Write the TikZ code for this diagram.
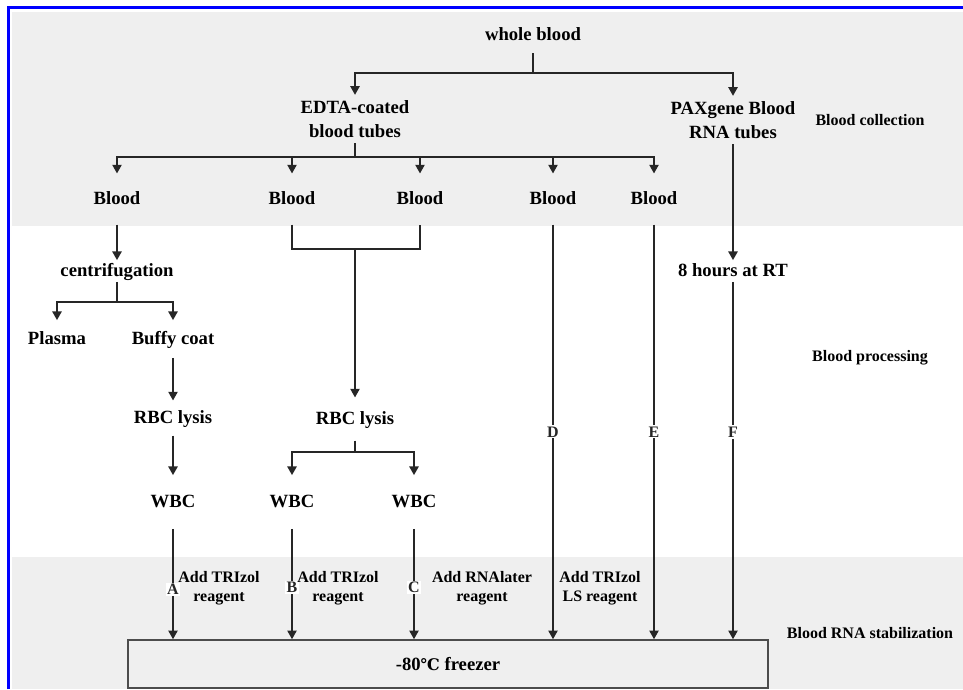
\documentclass[tikz,border=0pt]{standalone}
\usepackage{fontspec}
\setmainfont{Liberation Serif}
\newfontfamily\celsiusfont{DejaVu Serif}
\usepackage{tikz}
\usetikzlibrary{arrows.meta}

\definecolor{bandgray}{HTML}{EFEFEF}
\definecolor{frameblue}{HTML}{0000FF}

\begin{document}
\begin{tikzpicture}[x=0.75pt, y=-0.75pt, >={Triangle[length=6.5pt,width=7pt]},
    lbl/.style={font=\fontsize{14}{17}\selectfont\bfseries, text height=1.95ex, text depth=0pt, inner xsep=2pt},
    twoline/.style={font=\fontsize{14}{18}\selectfont\bfseries, align=center, inner ysep=4pt},
    note/.style={font=\fontsize{12}{14}\selectfont\bfseries},
    rgt/.style={font=\fontsize{12}{14.2}\selectfont\bfseries, align=center},
    tag/.style={font=\fontsize{12}{14}\selectfont\bfseries, fill=white, inner sep=1pt},
    flow/.style={line width=1.1pt, black!85}]
            \useasboundingbox (0,0) rectangle (963,689);
            % Bands and frame
            \fill[bandgray] (12,12) rectangle (963,226);
            \fill[bandgray] (12,557) rectangle (963,689);
            \draw[frameblue, line width=2.4pt] (8.5,689) -- (8.5,7.5) -- (963,7.5);

            % Stage labels
            \node[note] (stcoll) at (870,120) {Blood collection};
            \node[note] (stproc) at (870,358) {Blood processing};
            \node[note] (ststab) at (870,633) {Blood RNA stabilization};

            % Blood collection
            \node[lbl, inner ysep=9pt] (whole) at (533,35) {whole blood};
            \node[twoline] (edta) at (355,119) {EDTA-coated\\blood tubes};
            \node[twoline] (pax) at (733,120) {PAXgene Blood\\RNA tubes};
            \coordinate (j1) at (533,73);
            \draw[flow] (whole.south) -- (j1);
            \draw[flow, ->] (j1) -| (edta);
            \draw[flow, ->] (j1) -| (pax);

            \node[lbl, inner ysep=14.5pt] (b1) at (117,199) {Blood};
            \node[lbl, inner ysep=14.5pt] (b2) at (292,199) {Blood};
            \node[lbl, inner ysep=14.5pt] (b3) at (420,199) {Blood};
            \node[lbl, inner ysep=14.5pt] (b4) at (553,199) {Blood};
            \node[lbl, inner ysep=14.5pt] (b5) at (654,199) {Blood};
            \coordinate (j2) at (355,157);
            \draw[flow] (edta.south) -- (j2);
            \foreach \b in {b1,b2,b3,b4,b5}
                \draw[flow, ->] (j2) -| (\b);

            % Blood processing
            \node[lbl, inner ysep=3.5pt] (cent) at (117,271) {centrifugation};
            \node[lbl, inner ysep=9.5pt] (plasma) at (57,339) {Plasma};
            \node[lbl, inner ysep=9.5pt] (buffy) at (173,339) {Buffy coat};
            \node[lbl, inner ysep=8.5pt] (rbca) at (173,418) {RBC lysis};
            \node[lbl, inner ysep=15.5pt] (wbca) at (173,502) {WBC};
            \draw[flow, ->] (b1) -- (cent);
            \coordinate (j3) at (117,302);
            \draw[flow] (cent) -- (j3);
            \draw[flow, ->] (j3) -| (plasma);
            \draw[flow, ->] (j3) -| (buffy);
            \draw[flow, ->] (buffy) -- (rbca);
            \draw[flow, ->] (rbca) -- (wbca);

            \node[lbl, inner ysep=11.5pt] (rbcb) at (355,419) {RBC lysis};
            \node[lbl, inner ysep=15.5pt] (wbcb) at (292,502) {WBC};
            \node[lbl, inner ysep=15.5pt] (wbcc) at (414,502) {WBC};
            \coordinate (j4) at (355,249);
            \draw[flow] (b2) |- (j4) -| (b3);
            \draw[flow, ->] (j4) -- (rbcb);
            \coordinate (j5) at (355,452);
            \draw[flow] (rbcb) -- (j5);
            \draw[flow, ->] (j5) -| (wbcb);
            \draw[flow, ->] (j5) -| (wbcc);

            \node[lbl, inner ysep=3.5pt] (rt) at (733,271) {8 hours at RT};
            \draw[flow, ->] (pax) -- (rt);

            % Blood RNA stabilization
            \node[draw=black!70, line width=1.2pt, minimum width=480pt, minimum height=36pt,
                font=\fontsize{14}{17}\selectfont\bfseries] (frz) at (448,664)
                {-80{\celsiusfont\fontsize{12}{14}\selectfont ℃} freezer};

            \draw[flow, ->] (wbca) -- node[tag, pos=0.55] (ta) {A} (wbca |- frz.north);
            \draw[flow, ->] (wbcb) -- node[tag, pos=0.53] (tb) {B} (wbcb |- frz.north);
            \draw[flow, ->] (wbcc) -- node[tag, pos=0.53] (tc) {C} (wbcc |- frz.north);
            \draw[flow, ->] (b4) -- node[tag, pos=0.5] (td) {D} (b4 |- frz.north);
            \draw[flow, ->] (b5) -- node[tag, pos=0.5] (te) {E} (b5 |- frz.north);
            \draw[flow, ->] (rt) -- node[tag, pos=0.42] (tf) {F} (rt |- frz.north);

            \node[rgt] (ra) at (219,588) {Add TRIzol\\reagent};
            \node[rgt] (rb) at (338,588) {Add TRIzol\\reagent};
            \node[rgt] (rc) at (482,588) {Add RNAlater\\reagent};
            \node[rgt] (rd) at (600,588) {Add TRIzol\\LS reagent};
        \end{tikzpicture}
\end{document}
